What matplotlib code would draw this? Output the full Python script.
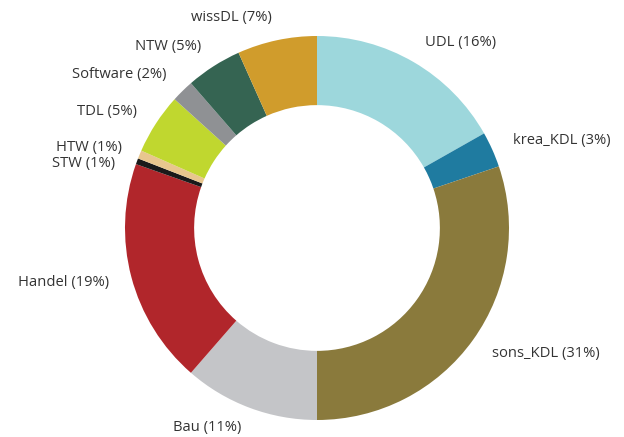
import matplotlib.pyplot as plt

# Anteile je Branche (im Uhrzeigersinn ab 12 Uhr)
names = ['UDL', 'krea_KDL', 'sons_KDL', 'Bau', 'Handel', 'STW', 'HTW',
         'TDL', 'Software', 'NTW', 'wissDL']
values = [16.8, 3.0, 30.2, 11.4, 19.0, 0.5, 0.7, 5.1, 1.9, 4.7, 6.7]
pct = [16, 3, 31, 11, 19, 1, 1, 5, 2, 5, 7]
colors = ['#9dd7dc', '#1f7ba0', '#8a7a3c', '#c4c5c8', '#b1262b', '#1a1a1a',
          '#e8c68e', '#c0d72f', '#8f9194', '#356452', '#d09c2c']

labels = [f'{n} ({p}%)' for n, p in zip(names, pct)]

plt.rcParams['font.family'] = ['Open Sans', 'DejaVu Sans']

fig = plt.figure(figsize=(6.24, 4.37), dpi=100)
ax = fig.add_axes([0, 0, 1, 1])

r_px = 192
cx, cy = 317, 437 - 228
wedges, texts = ax.pie(values, labels=labels, colors=colors, startangle=90,
                       counterclock=False, radius=1, labeldistance=1.12,
                       wedgeprops=dict(width=0.36, linewidth=0),
                       textprops=dict(fontsize=10.6, color='#333333'))

# die beiden schmalen Segmente: Beschriftungen auseinanderziehen
x, y = texts[5].get_position()
texts[5].set_position((x, (437 - 163 - cy) / r_px))
x, y = texts[6].get_position()
texts[6].set_position((x + 0.02, (437 - 147 - cy) / r_px))
x, y = texts[3].get_position()
texts[3].set_position((x, y + 0.01))

ax.set_xlim(-cx / r_px, (624 - cx) / r_px)
ax.set_ylim(-cy / r_px, (437 - cy) / r_px)
ax.set_aspect('auto')
ax.axis('off')

fig.savefig('out.png', dpi=100)
